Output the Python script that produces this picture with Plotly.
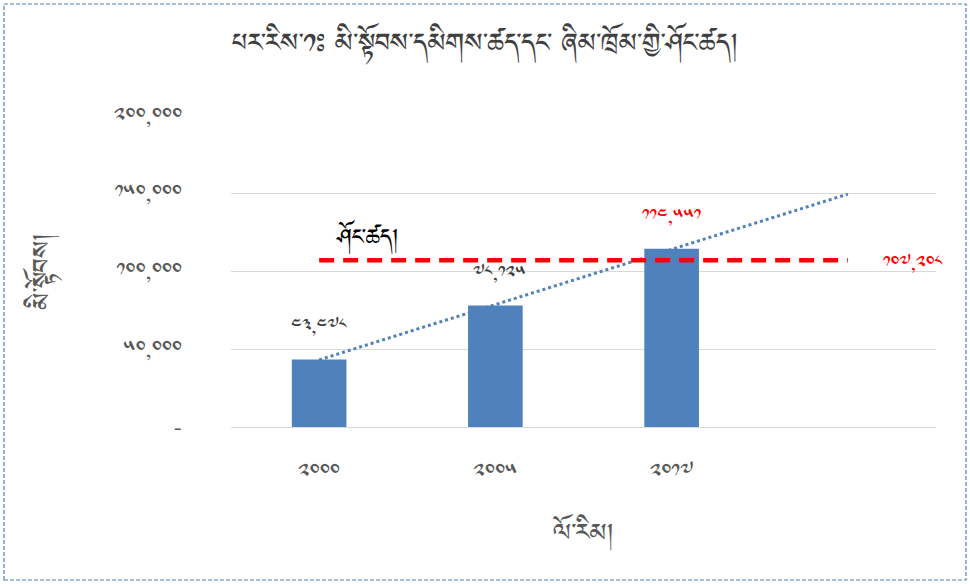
import numpy as np
import plotly.graph_objects as go

# ---- data ----
categories = ["༢༠༠༠", "༢༠༠༥", "༢༠༡༧"]
cat_pos = [1, 2, 3]
bar_values = [43478, 78125, 114551]
bar_labels = ["༤༣,༤༧༨", "༧༨,༡༢༥", "༡༡༤,༥༥༡"]
capacity_value = 107208
capacity_label = "༡༠༧,༢༠༨"
capacity_name = "ཤོང་ཚད།"
y_tickvals = [0, 50000, 100000, 150000, 200000]
y_ticktext = ["-", "༥༠,༠༠༠", "༡༠༠,༠༠༠", "༡༥༠,༠༠༠", "༢༠༠,༠༠༠"]
title_text = "པར་རིས་༡ཿ མི་སྟོབས་དམིགས་ཚད་དང་ ཞིམ་ཁྲོམ་གྱི་ཤོང་ཚད།"
x_title = "ལོ་རིམ།"
y_title = "མི་སྟོབས།"

FONT = "Noto Sans Tibetan, Jomolhari, Microsoft Himalaya, DejaVu Sans, sans-serif"

# linear trendline through the bars, extended one period forward
coef = np.polyfit(cat_pos, bar_values, 1)
trend_x = [cat_pos[0], cat_pos[-1] + 1]
trend_y = [float(np.polyval(coef, v)) for v in trend_x]

fig = go.Figure()
fig.add_trace(go.Bar(x=cat_pos, y=bar_values, width=0.31,
                     marker=dict(color="#4F81BD", line=dict(width=0)),
                     showlegend=False, hoverinfo="skip"))
fig.add_trace(go.Scatter(x=trend_x, y=trend_y, mode="lines",
                         line=dict(color="#4F81BD", width=3, dash="dot"),
                         showlegend=False, hoverinfo="skip"))
fig.add_trace(go.Scatter(x=[cat_pos[0], cat_pos[-1] + 1],
                         y=[capacity_value, capacity_value], mode="lines",
                         line=dict(color="#FF0000", width=4.5, dash="15px,9px"),
                         showlegend=False, hoverinfo="skip"))

annotations = []
for i, (x, v, t) in enumerate(zip(cat_pos, bar_values, bar_labels)):
    annotations.append(dict(x=x, y=v, text=t, showarrow=False, yshift=34,
                            xshift=4 if i == 1 else 0,
                            font=dict(family=FONT, size=19,
                                      color="#FF0000" if i == 2 else "#404040")))
annotations.append(dict(x=cat_pos[-1] + 1, y=capacity_value, text=capacity_label,
                        showarrow=False, xanchor="left", xshift=33, yshift=-2,
                        font=dict(family=FONT, size=19, color="#FF0000")))
annotations.append(dict(x=1.27, y=capacity_value, text=capacity_name,
                        showarrow=False, yshift=22,
                        font=dict(family=FONT, size=28, color="#000000")))

W, H = 970, 584
L, R, T, B = 231, 34, 116, 157
pw, ph = W - L - R, H - T - B
def px(x):
    return (x - L) / pw
def py(y):
    return (H - B - y) / ph

fig.update_layout(
    width=W, height=H,
    margin=dict(l=L, r=R, t=T, b=B),
    paper_bgcolor="white", plot_bgcolor="white",
    title=dict(text=title_text, x=0.5, xanchor="center", y=1 - 46 / H, yanchor="middle",
               font=dict(family=FONT, size=33, color="#404040")),
    xaxis=dict(range=[0.5, 4.5], tickvals=cat_pos, ticktext=categories,
               showgrid=False, zeroline=False, showline=False, ticks="",
               ticklabelstandoff=30,
               tickfont=dict(family=FONT, size=22, color="#595959"),
               title=dict(text=x_title, standoff=38,
                          font=dict(family=FONT, size=31, color="#595959"))),
    yaxis=dict(range=[0, 200000], tickvals=y_tickvals, ticktext=y_ticktext,
               showgrid=True, gridcolor="#D9D9D9", gridwidth=1.3,
               zeroline=True, zerolinecolor="#D9D9D9", zerolinewidth=1.3,
               showline=False, ticks="", ticklabelstandoff=48,
               tickfont=dict(family=FONT, size=22, color="#595959"),
               title=dict(text=y_title, standoff=48,
                          font=dict(family=FONT, size=31, color="#595959"))),
    annotations=annotations,
    shapes=[dict(type="rect", xref="paper", yref="paper",
                 x0=px(4), x1=px(966), y0=py(580), y1=py(4),
                 line=dict(color="#4F81BD", width=1.2, dash="4px,2px"),
                 fillcolor="rgba(0,0,0,0)", layer="below")],
)

fig.write_html("out.html", config={"displayModeBar": False},
               post_script="document.body.style.margin='0';")
